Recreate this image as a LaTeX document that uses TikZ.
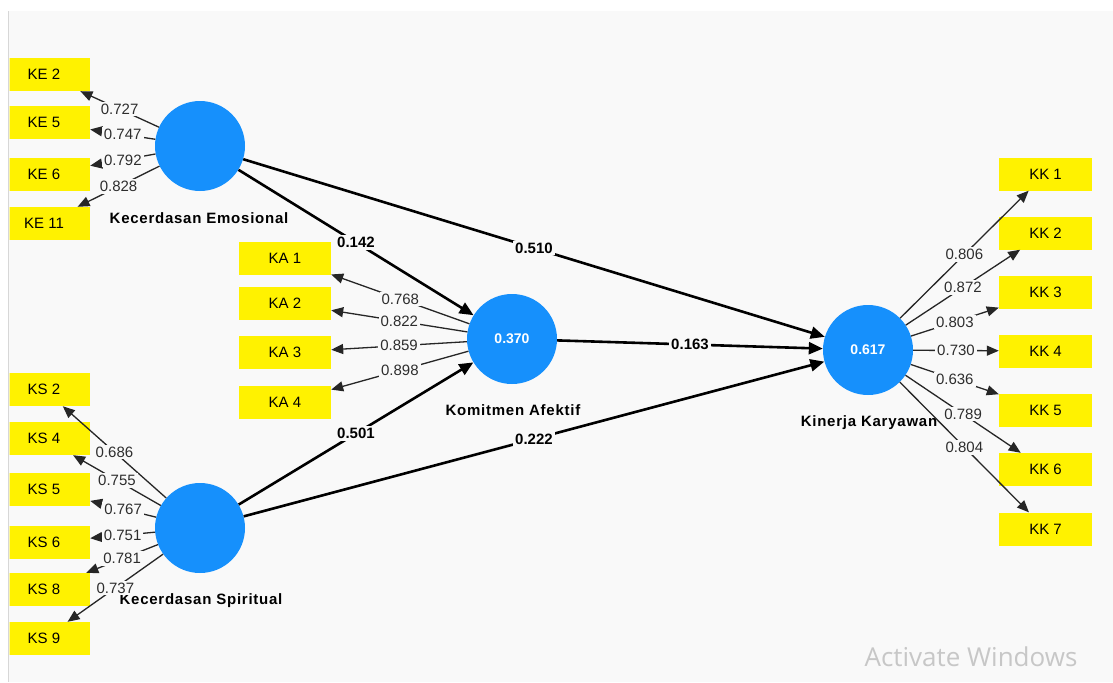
\documentclass[tikz,border=0pt]{standalone}
\usepackage{fontspec}
\setmainfont{Liberation Sans}
\newfontfamily\wmfont{Open Sans}
\usetikzlibrary{arrows.meta}

\definecolor{canvas}{RGB}{249,249,249}
\definecolor{latent}{RGB}{22,144,252}
\definecolor{frameline}{RGB}{215,215,215}
\definecolor{numgray}{RGB}{45,45,45}

\tikzset{
  lv/.style={circle,fill=latent,minimum size=90pt,inner sep=0pt,text=white,
    font=\fontsize{14}{16}\selectfont\bfseries},
  indbox/.style={rectangle,fill=yellow,minimum width=92pt,minimum height=33pt,
    inner sep=0pt,font=\fontsize{15}{17}\selectfont},
  lvname/.style={font=\fontsize{15}{17}\selectfont\bfseries\addfontfeature{LetterSpace=5}},
  loading/.style={-{Triangle[length=12pt,width=10pt]},line width=1.3pt,draw=black!85},
  struct/.style={-{Triangle[length=14pt,width=12pt]},line width=2.6pt},
  wt/.style={fill=canvas,inner sep=2pt,text=numgray,font=\fontsize{15}{17}\selectfont},
  pw/.style={fill=canvas,inner sep=2pt,font=\fontsize{15}{17}\selectfont\bfseries},
}

\begin{document}
\begin{tikzpicture}[x=1pt,y=-1pt]
\fill[white] (0,0) rectangle (1113,682);
\fill[canvas] (8,11) rectangle (1113,682);
\draw[frameline,line width=1.5pt] (8.5,11) -- (8.5,682);
\useasboundingbox (0,0) rectangle (1113,682);

\node[lv] (ke) at (200,146) {};
\node[lv] (ks) at (200,528) {};
\node[lv] (ka) at (512,339) {0.370};
\node[lv] (kk) at (868,350) {0.617};

\node[lvname] (ke-name) at (199,218) {Kecerdasan Emosional};
\node[lvname] (ks-name) at (201,601) {Kecerdasan Spiritual};
\node[lvname] (ka-name) at (513,410) {Komitmen Afektif};
\node[lvname] (kk-name) at (869,423) {Kinerja Karyawan};

\begin{scope}
\clip (9.5,11) rectangle (1113,682);
\foreach \i/\y in {2/74.5,5/122.5,6/174,11/223.5}
  \node[indbox] (ke\i) at (44,\y) {KE \i};
\foreach \i/\y in {2/389.5,4/438.5,5/489.5,6/542.5,8/589.5,9/638.5}
  \node[indbox] (ks\i) at (44,\y) {KS \i};
\end{scope}
\foreach \i/\y in {1/258,2/303,3/352.5,4/402.5}
  \node[indbox] (ka\i) at (285,\y) {KA \i};
\foreach \i/\y in {1/174,2/233,3/292.5,4/351,5/410,6/469.5,7/529}
  \node[indbox,minimum width=93pt] (kk\i) at (1045.5,\y) {KK \i};

\foreach \i/\w in {2/0.727,5/0.747,6/0.792,11/0.828}
  \draw[loading] (ke) -- node[wt] {\w} (ke\i);
\foreach \i/\w in {2/0.686,4/0.755,5/0.767,6/0.751,8/0.781,9/0.737}
  \draw[loading] (ks) -- node[wt] {\w} (ks\i);
\foreach \i/\w in {1/0.768,2/0.822,3/0.859,4/0.898}
  \draw[loading] (ka) -- node[wt] {\w} (ka\i);
\foreach \i/\w in {1/0.806,2/0.872,3/0.803,4/0.730,5/0.636,6/0.789,7/0.804}
  \draw[loading] (kk) -- node[wt] {\w} (kk\i);

\draw[struct] (ke) -- node[pw] {0.142} (ka);
\draw[struct] (ke) -- node[pw] {0.510} (kk);
\draw[struct] (ka) -- node[pw] {0.163} (kk);
\draw[struct] (ks) -- node[pw] {0.501} (ka);
\draw[struct] (ks) -- node[pw] {0.222} (kk);

\node[anchor=west,text=black!22,font=\fontsize{26}{29}\selectfont\wmfont] (wm) at (861,657) {Activate Windows};
\end{tikzpicture}
\end{document}
